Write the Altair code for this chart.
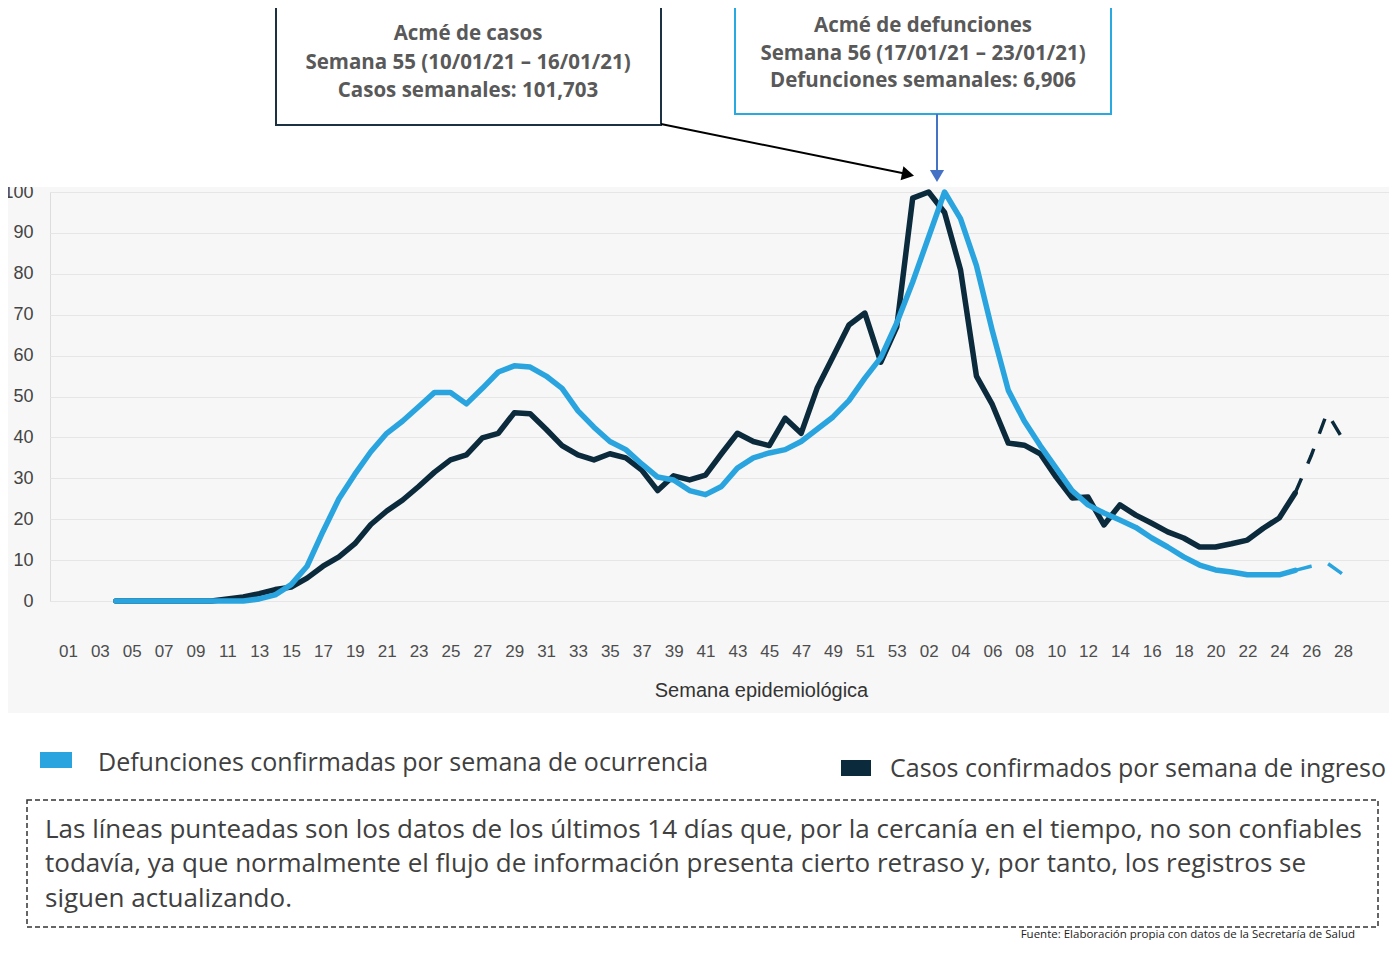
import altair as alt
import pandas as pd

# ---------------- data ----------------
semanas = [f"{w:02d}" for w in range(1, 54)] + [f"{w:02d}" for w in range(1, 29)]

# Defunciones confirmadas por semana de ocurrencia (% del máximo)
defunciones = [
    None, None, None, 0, 0, 0, 0, 0, 0, 0, 0, 0, 0.5, 1.5, 4, 8.5, 17, 25, 31, 36.5,
    41, 44, 47.5, 51, 51, 48.2, 52, 56, 57.5, 57.2, 55, 52, 46.5, 42.5, 39, 37, 33.5, 30.3, 29.6, 27,
    26, 28, 32.5, 35, 36.2, 37, 39, 42, 45, 49, 54.5, 59.5, 68,
    78, 89, 100, 93.5, 82, 66, 51.5, 44, 38, 32.5, 27, 23.5, 21.5, 19.8, 18, 15.4, 13.2, 10.8,
    8.8, 7.6, 7.1, 6.4, 6.4, 6.4, 7.5, 8.5, 9.3, 6.5,
]

# Casos confirmados por semana de ingreso (% del máximo)
casos = [
    None, None, None, 0, 0, 0, 0, 0, 0, 0, 0.5, 1, 1.8, 2.8, 3.4, 5.6, 8.5, 10.8, 14, 18.7,
    22, 24.7, 28, 31.5, 34.5, 35.7, 39.9, 41, 46, 45.8, 42, 38, 35.7, 34.5, 36, 35, 32, 27, 30.6, 29.6,
    30.8, 36, 41, 39, 38, 44.7, 41, 52, 59.7, 67.5, 70.4, 58.4, 67,
    98.5, 100, 95, 81, 55, 48, 38.6, 38.1, 36, 30.3, 25.2, 25.4, 18.6, 23.5, 21, 19, 16.9, 15.4,
    13.2, 13.2, 14, 14.9, 17.8, 20.3, 26.4, 35.5, 46, 39.5,
]

ultimo_confiable = 77  # semana 25 de 2021 (índice); después, líneas punteadas

rows = []
for serie, vals in (("Casos", casos), ("Defunciones", defunciones)):
    for i, v in enumerate(vals):
        if v is None:
            continue
        if i <= ultimo_confiable:
            rows.append({"i": i, "valor": v, "serie": serie, "parte": "solida"})
        if i >= ultimo_confiable:
            rows.append({"i": i, "valor": v, "serie": serie, "parte": "punteada"})
df = pd.DataFrame(rows)

BLUE = "#2aa4de"
DARK = "#0b2a3c"
W, H = 1339, 409
FONT = "Open Sans"

xscale = alt.Scale(domain=[-1.129, 82.886], nice=False, zero=False)
yscale = alt.Scale(domain=[0, 100], nice=False, zero=False)

xaxis = alt.Axis(
    values=list(range(0, 81, 2)),
    labelExpr="datum.value <= 52 ? (datum.value < 9 ? '0' : '') + (datum.value + 1) : (datum.value < 62 ? '0' : '') + (datum.value - 52)",
    labelFont="Liberation Sans", labelFontSize=17, labelColor="#4d4d4d",
    labelPadding=42, labelOverlap=False, labelFlush=False,
    domain=False, ticks=False, grid=False,
    title="Semana epidemiológica", titleFont="Liberation Sans", titleFontSize=20,
    titleFontWeight="normal", titleColor="#333333",
    titleX=711, titleY=89, titleBaseline="middle",
)
yaxis = alt.Axis(
    values=list(range(0, 101, 10)),
    labelFont="Liberation Sans", labelFontSize=18, labelColor="#444444",
    labelPadding=17, domain=False, ticks=False,
    grid=True, gridColor="#e6e6e6", gridWidth=1, title=None,
)

base = alt.Chart(df)


def linea(serie, parte, color, width, dash=None):
    kw = dict(color=color, strokeWidth=width, strokeJoin="round")
    if dash:
        kw["strokeDash"] = dash
        kw["strokeCap"] = "butt"
    else:
        kw["strokeCap"] = "round"
    return base.transform_filter(
        f"datum.serie == '{serie}' && datum.parte == '{parte}'"
    ).mark_line(**kw).encode(
        x=alt.X("i:Q", scale=xscale, axis=xaxis),
        y=alt.Y("valor:Q", scale=yscale, axis=yaxis),
        order="i:Q",
    )


one = alt.Data(values=[{"k": 0}])


def rect(x, x2, y, y2, fill=None, stroke=None, sw=0, dash=None):
    kw = dict(strokeWidth=sw)
    kw["fill"] = fill if fill else "transparent"
    if stroke:
        kw["stroke"] = stroke
    if dash:
        kw["strokeDash"] = dash
    return alt.Chart(one).mark_rect(**kw).encode(
        x=alt.value(x), x2=alt.value(x2), y=alt.value(y), y2=alt.value(y2)
    )


def txt(text, x, y, size, color="#404040", weight="normal", align="center",
        font=FONT, baseline="middle"):
    return alt.Chart(one).mark_text(
        text=text, fontSize=size, color=color, fontWeight=weight, align=align,
        font=font, baseline=baseline,
    ).encode(x=alt.value(x), y=alt.value(y))


def rule(x, y, x2, y2, color, width):
    return alt.Chart(one).mark_rule(color=color, strokeWidth=width).encode(
        x=alt.value(x), y=alt.value(y), x2=alt.value(x2), y2=alt.value(y2)
    )


def head(x, y, shape, angle, color, size):
    return alt.Chart(one).mark_point(
        shape=shape, filled=True, size=size, angle=angle, color=color, opacity=1
    ).encode(x=alt.value(x), y=alt.value(y))


ANN = "#595959"
AS = 20.5
layers = [
    # white areas around the grey chart panel
    rect(-60, 1345, -200, -5, fill="white"),
    rect(-60, 1345, 521, 770, fill="white"),
    # data lines
    linea("Casos", "solida", DARK, 5.5),
    linea("Casos", "punteada", DARK, 3.5, [16, 16]),
    linea("Defunciones", "solida", BLUE, 5.5),
    linea("Defunciones", "punteada", BLUE, 3.5, [17, 17]),
    # annotation box 1 (cases)
    rect(226, 611, -200, -67, fill="white", stroke="#1c3243", sw=2),
    txt("Acmé de casos", 418, -158, AS, ANN, "bold"),
    txt("Semana 55 (10/01/21 – 16/01/21)", 418, -129, AS, ANN, "bold"),
    txt("Casos semanales: 101,703", 418, -101, AS, ANN, "bold"),
    rule(611, -68, 857, -18, "black", 2),
    head(858, -17.5, "triangle-right", 11.5, "black", 200),
    # annotation box 2 (deaths)
    rect(685, 1061, -200, -78, fill="white", stroke="#2aa8e0", sw=2),
    txt("Acmé de defunciones", 873, -166, AS, ANN, "bold"),
    txt("Semana 56 (17/01/21 – 23/01/21)", 873, -138, AS, ANN, "bold"),
    txt("Defunciones semanales: 6,906", 873, -111, AS, ANN, "bold"),
    rule(887, -78, 887, -18, "#4472c4", 2),
    head(887, -16, "triangle-down", 0, "#4472c4", 200),
    # legend
    rect(-10, 22, 560, 576, fill=BLUE),
    txt("Defunciones confirmadas por semana de ocurrencia", 48, 571, 25, "#404040", align="left"),
    rect(791, 821, 568, 584, fill=DARK),
    txt("Casos confirmados por semana de ingreso", 840, 577, 25, "#404040", align="left"),
    # note box
    rect(-23, 1328, 608, 735, stroke="#333333", sw=1.5, dash=[5, 3]),
    txt("Las líneas punteadas son los datos de los últimos 14 días que, por la cercanía en el tiempo, no son confiables",
        -5, 638, 26, "#404040", align="left"),
    txt("todavía, ya que normalmente el flujo de información presenta cierto retraso y, por tanto, los registros se",
        -5, 672, 26, "#404040", align="left"),
    txt("siguen actualizando.", -5, 707, 26, "#404040", align="left"),
    txt("Fuente: Elaboración propia con datos de la Secretaría de Salud", 1305, 737, 11.5,
        "#222222", align="right", baseline="top"),
]

chart = alt.layer(*layers).properties(
    width=W, height=H,
    autosize=alt.AutoSizeParams(type="none"),
    padding={"left": 42, "top": 184, "right": 0, "bottom": 339},
).configure_view(stroke=None).configure(background="#f7f7f7")

chart.save("out.html", embed_options={"renderer": "svg", "actions": False})
